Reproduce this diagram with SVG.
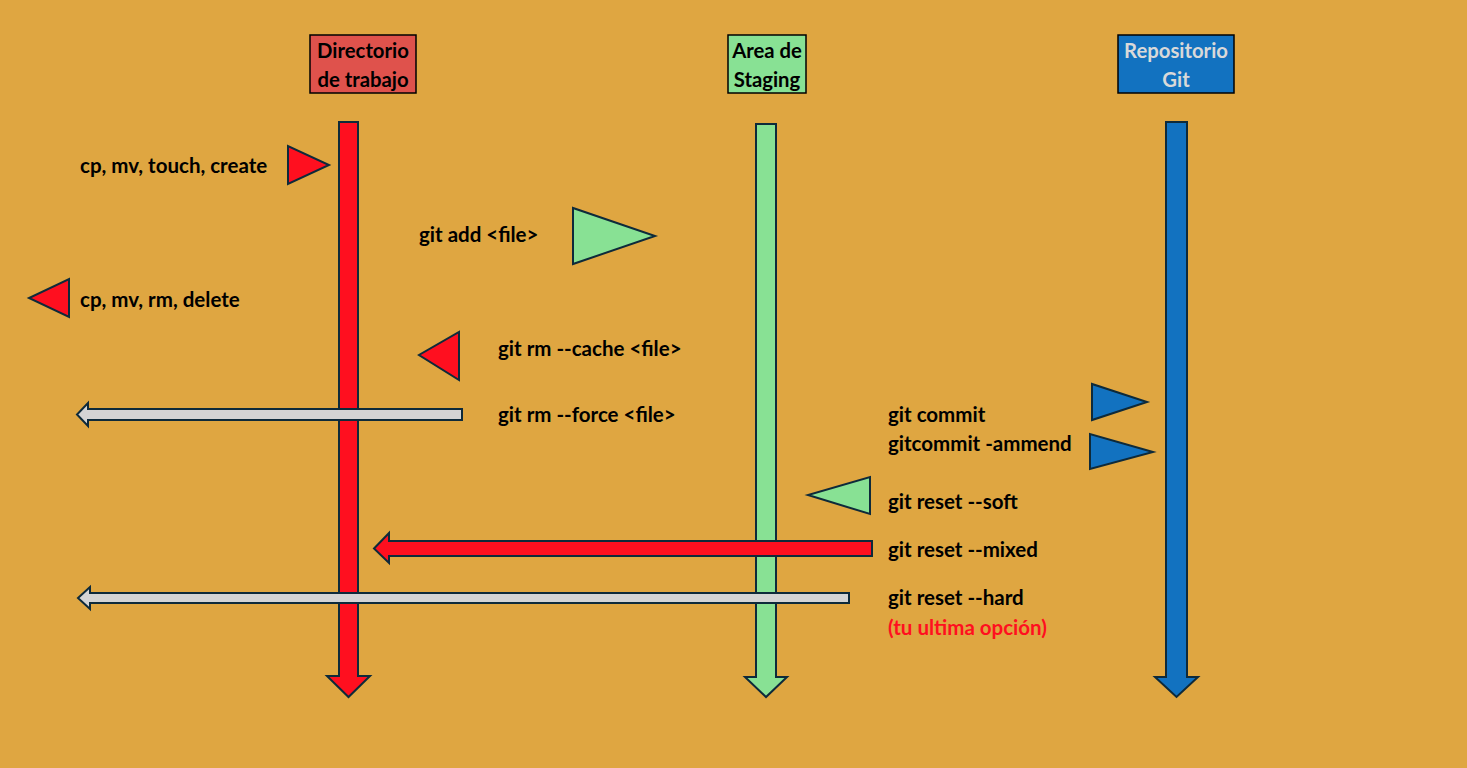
<svg xmlns="http://www.w3.org/2000/svg" width="1467" height="768" viewBox="0 0 1467 768">
<style>
  .t{font-family:Lato,"Liberation Sans",sans-serif;font-weight:bold;font-size:20.5px;fill:#000}
  .h{font-family:Lato,"Liberation Sans",sans-serif;font-weight:bold;font-size:20.3px;text-anchor:middle}
  .s{stroke:#0E2A3A;stroke-width:2;stroke-linejoin:miter}
  .red{fill:#FF0F1F}
  .grn{fill:#88E194}
  .blu{fill:#1272C0}
  .gry{fill:#D4D4D4}
</style>
<rect width="1467" height="768" fill="#DFA641"/>

<g id="node-directorio">
  <rect x="310" y="35" width="106" height="58" fill="#DF524C" stroke="#000" stroke-width="1.5"/>
  <text class="h" x="363" y="58" fill="#000">Directorio</text>
  <text class="h" x="363" y="87" fill="#000">de trabajo</text>
</g>
<g id="node-staging">
  <rect x="728" y="35" width="78" height="58" fill="#88E194" stroke="#000" stroke-width="1.5"/>
  <text class="h" x="767" y="58" fill="#000">Area de</text>
  <text class="h" x="767" y="87" fill="#000">Staging</text>
</g>
<g id="node-repo">
  <rect x="1118" y="35" width="116" height="58" fill="#1272C0" stroke="#000" stroke-width="1.5"/>
  <text class="h" x="1176" y="58" fill="#D9D9D9">Repositorio</text>
  <text class="h" x="1176" y="87" fill="#D9D9D9">Git</text>
</g>

<g id="connectors">
  <!-- lifelines -->
  <path class="s red" d="M339,122 H358 V676 H370 L348.5,697 L327,676 H339 Z"/>
  <path class="s grn" d="M756,124 H776 V677 H787 L766,697 L745,677 H756 Z"/>
  <path class="s blu" d="M1166,122 H1187 V677 H1198 L1176.5,697 L1155,677 H1166 Z"/>

  <!-- triangles -->
  <polygon class="s red" points="288,146 288,184 329,165"/>
  <polygon class="s grn" points="573,208 573,264 655,236"/>
  <polygon class="s red" points="69,279 69,317 29,298"/>
  <polygon class="s red" points="459,332 459,380 419,355"/>
  <polygon class="s blu" points="1092,384 1092,420 1147,402"/>
  <polygon class="s blu" points="1090,434 1090,469 1153,452"/>
  <polygon class="s grn" points="870,477 870,514 808,495"/>

  <!-- block arrows -->
  <path class="s gry" d="M462,409 V420 H88 V426 L77,414.5 L88,403 V409 Z"/>
  <path class="s red" d="M872,541 V556 H389 V563 L374,548.5 L389,533 V541 Z"/>
  <path class="s gry" d="M849,593 V603 H90 V609 L78,598 L90,587 V593 Z"/>
</g>

<g id="labels">
  <text class="t" x="80" y="173">cp, mv, touch, create</text>
  <text class="t" x="419" y="242">git add &lt;file&gt;</text>
  <text class="t" x="80" y="307">cp, mv, rm, delete</text>
  <text class="t" x="498" y="356">git rm --cache &lt;file&gt;</text>
  <text class="t" x="498" y="422">git rm --force &lt;file&gt;</text>
  <text class="t" x="888" y="422">git commit</text>
  <text class="t" x="888" y="451">gitcommit -ammend</text>
  <text class="t" x="888" y="509">git reset --soft</text>
  <text class="t" x="888" y="557">git reset --mixed</text>
  <text class="t" x="888" y="605">git reset --hard</text>
  <text class="t" x="888" y="635" style="fill:#FF0F1F">(tu ultima opción)</text>
</g>
</svg>
